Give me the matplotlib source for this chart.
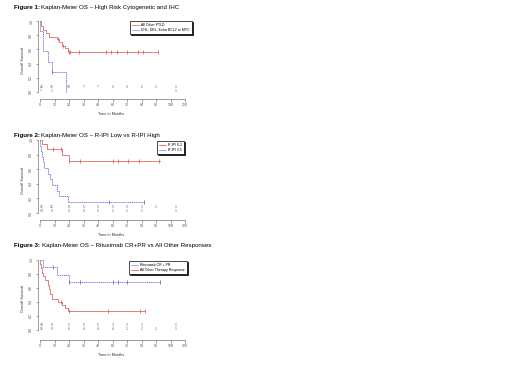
import numpy as np
import matplotlib
matplotlib.use('Agg')
from matplotlib import pyplot as plt

plt.rcParams['font.family'] = ['Liberation Sans', 'DejaVu Sans']

W, H = 520, 371
RED = '#dc6a6a'
BLUE = '#6a6ad8'

# ---- Figure 1 data ----
f1_titles = ('Figure 1:', 'Kaplan-Meier OS \u2013 High Risk Cytogenetic and IHC')
f1_labels = ['All Other PTLD', 'DHL, DEL, Extra BCL2 or MYC']
f1_red_t = [0, 0.8, 2.8, 5, 7.7, 14, 16, 18, 20.7, 23.4]
f1_red_s = [1, 0.93, 0.88, 0.83, 0.77, 0.74, 0.70, 0.65, 0.62, 0.56]
f1_red_end = 98
f1_red_cens = [15, 19, 24, 24.5, 32.5, 55, 59, 63.5, 72, 81, 85.5, 98]
f1_blue_t = [0, 0.2, 2.8, 7, 9.6, 21.8]
f1_blue_s = [1, 0.857, 0.571, 0.429, 0.286, 0.0]
f1_blue_end = 21.8
f1_blue_cens = [10]
f1_risk1 = ['22', '15', '10', '7', '7', '5', '3', '2', '1', '1']
f1_risk2 = ['7', '1', '', '', '', '', '', '', '', '1']

# ---- Figure 2 data ----
f2_titles = ('Figure 2:', 'Kaplan-Meier OS \u2013 R-IPI Low vs R-IPI High')
f2_labels = ['R-IPI 0-2', 'R-IPI 3-5']
f2_red_t = [0, 2, 6, 18.5, 24]
f2_red_s = [1, 0.94, 0.875, 0.80, 0.71]
f2_red_end = 99
f2_red_cens = [11, 17, 24.3, 33, 60.5, 64.5, 73, 82, 98.8]
f2_blue_t = [0, 0.3, 1, 1.4, 2.2, 3, 6.9, 8.3, 9.6, 13.8, 15.4, 22.9]
f2_blue_s = [1, .923, .846, .769, .692, .615, .538, .462, .385, .308, .231, .154]
f2_blue_end = 86
f2_blue_cens = [57, 86]
f2_risk1 = ['16', '12', '8', '5', '5', '5', '2', '1', '1', '1']
f2_risk2 = ['13', '5', '2', '2', '2', '1', '1', '1', '', '1']

# ---- Figure 3 data ----
f3_titles = ('Figure 3:', 'Kaplan-Meier OS \u2013 Rituximab CR+PR vs All Other Responses')
f3_labels = ['Rituximab CR + PR', 'All Other Therapy Response']
f3_blue_t = [0, 2.8, 13.9, 24]
f3_blue_s = [1, 0.9, 0.79, 0.68]
f3_blue_end = 99.4
f3_blue_cens = [11, 24.3, 33, 60.5, 64.4, 72, 99.4]
f3_red_t = [0, 0.3, 1, 1.8, 2.5, 4.1, 6.4, 7.5, 8.5, 9.7, 15.2, 18.5, 20.7, 23.2]
f3_red_s = [1, .94, .88, .82, .77, .71, .65, .59, .52, .45, .40, .36, .31, .27]
f3_red_end = 86.7
f3_red_cens = [17, 24, 56, 82.8, 86.7]
f3_risk1 = ['10', '8', '5', '5', '5', '3', '2', '1', '', '1']
f3_risk2 = ['16', '9', '6', '4', '4', '4', '1', '1', '1', '1']

risk_x = [1, 10, 24, 36, 48, 60, 72, 84, 96, 112]
xticks = list(range(0, 121, 12))
yticks = [0.0, 0.2, 0.4, 0.6, 0.8, 1.0]

fig = plt.figure(figsize=(W / 100, H / 100), dpi=100)
renderer = fig.canvas.get_renderer()


def km(ax, t, s, end, cens, color, ls, label):
    tt = list(t) + [end]
    ss = list(s) + [s[-1]]
    ax.step(tt, ss, where='post', color=color, lw=0.6, ls=ls, label=label)
    idx = np.searchsorted(t, cens, side='right') - 1
    ax.plot(cens, np.array(s)[idx], ls='none', marker='|', ms=3.2, mew=0.6, color=color)


def panel(x0, x120, y1, y0, xaxis_px, yaxis_px):
    ppm = (x120 - x0) / 120
    ppu = y0 - y1
    xlim = (-6, 124)
    ylim = (-0.15, 1.04)
    l = x0 + xlim[0] * ppm
    r = x0 + xlim[1] * ppm
    t = y0 - ylim[1] * ppu
    b = y0 - ylim[0] * ppu
    ax = fig.add_axes([l / W, 1 - b / H, (r - l) / W, (b - t) / H])
    ax.set_xlim(*xlim)
    ax.set_ylim(*ylim)
    ax.patch.set_alpha(0)
    for sp in ['top', 'right']:
        ax.spines[sp].set_visible(False)
    ax.spines['left'].set_position(('data', (yaxis_px - x0) / ppm))
    ax.spines['bottom'].set_position(('data', (y0 - xaxis_px) / ppu))
    ax.spines['left'].set_bounds(0, 1)
    ax.spines['bottom'].set_bounds(0, 120)
    for sp in ['left', 'bottom']:
        ax.spines[sp].set_linewidth(0.4)
        ax.spines[sp].set_color('#555555')
    ax.set_xticks(xticks)
    ax.set_yticks(yticks)
    ax.set_yticklabels([f'{v:.1f}' for v in yticks], rotation=90, va='center')
    ax.tick_params(length=1.8, width=0.4, pad=1.2, labelsize=2.6, colors='#555555')
    ax.set_ylabel('Overall Survival', fontsize=2.8, color='#333333', labelpad=3)
    ax.set_xlabel('Time in Months', fontsize=2.8, color='#333333', labelpad=3.5)
    return ax


def title(y_px, parts):
    a = fig.text(14 / W, 1 - y_px / H, parts[0], fontsize=4.4, fontweight='bold', va='center')
    bb = a.get_window_extent(renderer)
    fig.text((bb.x1 + 1.5) / W, 1 - y_px / H, parts[1], fontsize=4.4, va='center')


def risk(ax, row1, row2, ya, yb):
    for x, a, b in zip(risk_x, row1, row2):
        ax.text(x, ya, a, fontsize=2.4, ha='center', va='center', color='#555555')
        ax.text(x, yb, b, fontsize=2.4, ha='center', va='center', color='#555555')


def legend(ax, x_px, y_px):
    lg = ax.legend(loc='upper left', bbox_to_anchor=(x_px / W, 1 - y_px / H),
                   bbox_transform=fig.transFigure, fontsize=2.5, frameon=True,
                   fancybox=False, edgecolor='black', framealpha=1,
                   handlelength=2.2, handletextpad=0.6, borderpad=0.5,
                   labelspacing=0.35, borderaxespad=0,
                   shadow={'color': 'black', 'ox': 0.8, 'oy': -0.8, 'alpha': 1})
    lg.get_frame().set_linewidth(0.5)


# Figure 1
title(7, f1_titles)
ax1 = panel(40, 185, 21, 92, 99, 37.5)
km(ax1, f1_red_t, f1_red_s, f1_red_end, f1_red_cens, RED, '-', f1_labels[0])
km(ax1, f1_blue_t, f1_blue_s, f1_blue_end, f1_blue_cens, BLUE, (0, (1.5, 0.8)), f1_labels[1])
risk(ax1, f1_risk1, f1_risk2, 0.075, 0.015)
legend(ax1, 130, 21)

# Figure 2
title(135, f2_titles)
ax2 = panel(40, 185, 140, 213, 220, 37.5)
km(ax2, f2_red_t, f2_red_s, f2_red_end, f2_red_cens, RED, '-', f2_labels[0])
km(ax2, f2_blue_t, f2_blue_s, f2_blue_end, f2_blue_cens, BLUE, (0, (1.5, 0.8)), f2_labels[1])
risk(ax2, f2_risk1, f2_risk2, 0.085, 0.025)
legend(ax2, 157, 141)

# Figure 3
title(246, f3_titles)
ax3 = panel(40, 185, 260, 330, 340, 37.5)
km(ax3, f3_blue_t, f3_blue_s, f3_blue_end, f3_blue_cens, BLUE, (0, (1.5, 0.8)), f3_labels[0])
km(ax3, f3_red_t, f3_red_s, f3_red_end, f3_red_cens, RED, '-', f3_labels[1])
risk(ax3, f3_risk1, f3_risk2, 0.065, 0.01)
legend(ax3, 129, 261)

fig.savefig('out.png', dpi=100)
